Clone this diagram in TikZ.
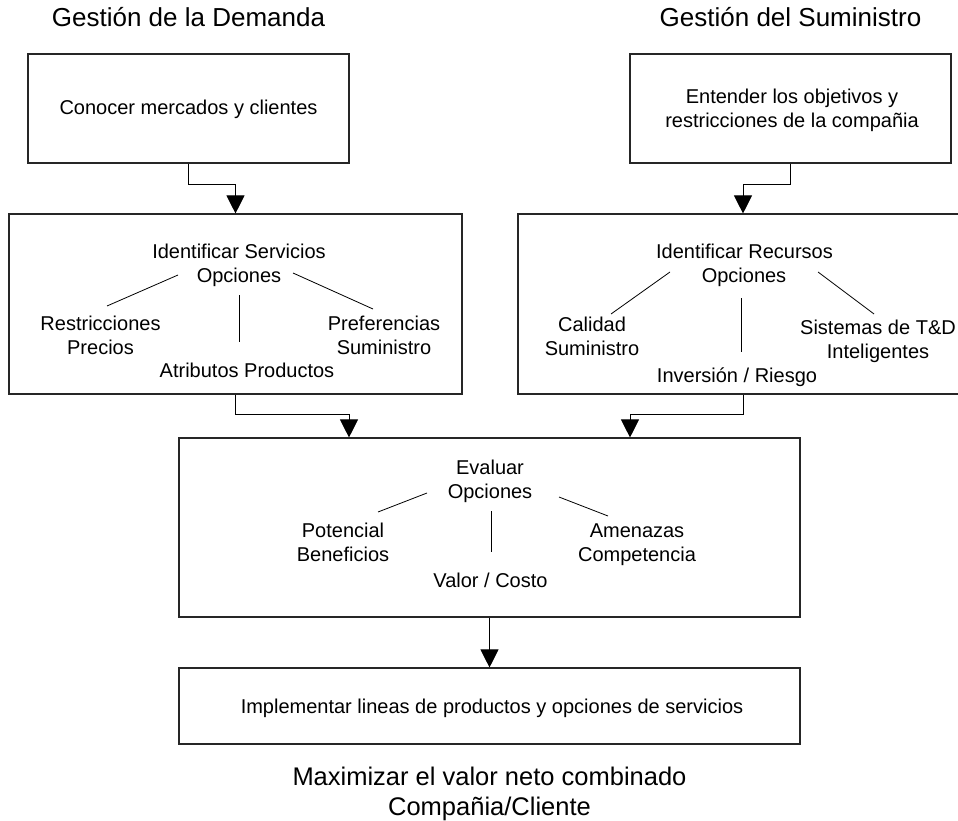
\documentclass[tikz,border=0pt]{standalone}
\usepackage{fontspec}
\setmainfont{Liberation Sans}
\usetikzlibrary{arrows.meta}
\begin{document}
\begin{tikzpicture}[x=1pt,y=-1pt,
  box/.style={draw=black!85,line width=1.1pt,rectangle,inner sep=0pt},
  lbl/.style={anchor=base,inner sep=0pt,font=\fontsize{20}{24}\selectfont},
  head/.style={anchor=base,inner sep=0pt,font=\fontsize{26}{30}\selectfont},
  flow/.style={draw=black,line width=0.9pt,-{Triangle[width=18pt,length=18pt]}},
  spoke/.style={draw=black,line width=0.8pt}]
\useasboundingbox (0,0) rectangle (958,821);
\clip (0,0) rectangle (958,821);
\fill[white] (0,0) rectangle (958,821);

% column headings
\node[head] (tdem) at (188.5,27) {Gestión de la Demanda};
\node[head] (tsum) at (790.5,27) {Gestión del Suministro};

% boxes
\node[box,minimum width=321pt,minimum height=109pt] (conocer) at (188.5,108.5) {};
\node[box,minimum width=321pt,minimum height=109pt] (entender) at (790.5,108.5) {};
\node[box,minimum width=453pt,minimum height=180pt] (servicios) at (235.5,304) {};
\node[box,minimum width=450pt,minimum height=180pt] (recursos) at (743,304) {};
\node[box,minimum width=621pt,minimum height=179pt] (evaluar) at (489.5,527.5) {};
\node[box,minimum width=621pt,minimum height=76pt] (implementar) at (489.5,706) {};

% texts of the top boxes
\node[lbl] (conocerT) at (188.5,115) {Conocer mercados y clientes};
\node[lbl] (entenderT1) at (792,104) {Entender los objetivos y};
\node[lbl] (entenderT2) at (792,128) {restricciones de la compañia};

% demand options
\node[lbl] (servT1) at (239,258) {Identificar Servicios};
\node[lbl] (servT2) at (239,282) {Opciones};
\node[lbl] (restr1) at (100.5,330) {Restricciones};
\node[lbl] (restr2) at (100.5,354) {Precios};
\node[lbl] (pref1) at (384,330) {Preferencias};
\node[lbl] (pref2) at (384,354) {Suministro};
\node[lbl] (atrib) at (247,377) {Atributos Productos};
\draw[spoke] (178,275) -- (107,306);
\draw[spoke] (293,273) -- (373,309);
\draw[spoke] (239,295) -- (239,342);

% supply options
\node[lbl] (recT1) at (744.5,258) {Identificar Recursos};
\node[lbl] (recT2) at (744,282) {Opciones};
\node[lbl] (cal1) at (592,331) {Calidad};
\node[lbl] (cal2) at (592,355) {Suministro};
\node[lbl] (sist1) at (878,334) {Sistemas de T\&D};
\node[lbl] (sist2) at (878,358) {Inteligentes};
\node[lbl] (inv) at (737,382) {Inversión / Riesgo};
\draw[spoke] (670,272) -- (611,314);
\draw[spoke] (818,272) -- (874,314);
\draw[spoke] (741,298) -- (741,352);

% evaluation
\node[lbl] (evT1) at (490,474) {Evaluar};
\node[lbl] (evT2) at (490,498) {Opciones};
\node[lbl] (pot1) at (343,537) {Potencial};
\node[lbl] (pot2) at (343,561) {Beneficios};
\node[lbl] (ame1) at (637,537) {Amenazas};
\node[lbl] (ame2) at (637,561) {Competencia};
\node[lbl] (valor) at (490.5,587) {Valor / Costo};
\draw[spoke] (427,493) -- (378,512);
\draw[spoke] (559,497) -- (608,516);
\draw[spoke] (491,511) -- (491,552);

% implementation
\node[lbl] (implT) at (492,713) {Implementar lineas de productos y opciones de servicios};

% goal
\node[head,font=\fontsize{25.5}{30}\selectfont] (goal1) at (489.5,785) {Maximizar el valor neto combinado};
\node[head,font=\fontsize{25.5}{30}\selectfont] (goal2) at (489.5,815) {Compañia/Cliente};

% flow connectors
\draw[flow] (conocer.south) -- ++(0,21) -| (servicios.north);
\draw[flow] (entender.south) -- ++(0,21) -| (recursos.north);
\draw[flow] (servicios.south) -- ++(0,20) -| ([xshift=-140.5pt]evaluar.north);
\draw[flow] (recursos.south) -- ++(0,20) -| ([xshift=140.5pt]evaluar.north);
\draw[flow] (evaluar.south) -- (implementar.north);
\end{tikzpicture}
\end{document}
